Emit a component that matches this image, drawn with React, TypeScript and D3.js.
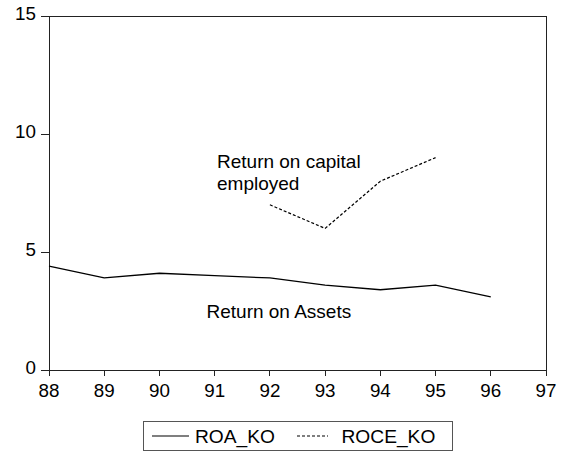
import React from "react";
import * as d3 from "d3";

const years = [88, 89, 90, 91, 92, 93, 94, 95, 96];
const roa = [4.4, 3.9, 4.1, 4.0, 3.9, 3.6, 3.4, 3.6, 3.1];
const roceYears = [92, 93, 94, 95];
const roce = [7.0, 6.0, 8.0, 9.0];
const xTicks = [88, 89, 90, 91, 92, 93, 94, 95, 96, 97];
const yTicks = [0, 5, 10, 15];
const seriesNames = ["ROA_KO", "ROCE_KO"];

const W = 563;
const H = 453;
const left = 49;
const right = 546;
const top = 16;
const bottom = 370;
const font = "'Liberation Sans', Arial, sans-serif";

export default function App() {
  const x = d3.scaleLinear().domain([88, 97]).range([left, right]);
  const y = d3.scaleLinear().domain([0, 15]).range([bottom, top]);
  const line = d3
    .line<[number, number]>()
    .x((d) => x(d[0]))
    .y((d) => y(d[1]));
  const roaPath = line(years.map((yr, i) => [yr, roa[i]]) as [number, number][]) || "";
  const rocePath = line(roceYears.map((yr, i) => [yr, roce[i]]) as [number, number][]) || "";

  return (
    <svg
      width={W}
      height={H}
      style={{ position: "absolute", left: 0, top: 0, background: "#fff" }}
      fontFamily={font}
    >
      <rect x={0} y={0} width={W} height={H} fill="#fff" />
      <rect
        x={left}
        y={top}
        width={right - left}
        height={bottom - top}
        fill="none"
        stroke="#222"
        strokeWidth={1}
        shapeRendering="crispEdges"
      />
      {yTicks.map((t) => (
        <g key={"y" + t}>
          <line
            x1={left - 8}
            x2={left}
            y1={y(t)}
            y2={y(t)}
            stroke="#222"
            shapeRendering="crispEdges"
          />
          <text x={36} y={y(t) + 4} textAnchor="end" fontSize={18.8} fill="#000">
            {t}
          </text>
        </g>
      ))}
      {xTicks.map((t) => (
        <g key={"x" + t}>
          <line
            x1={x(t)}
            x2={x(t)}
            y1={bottom}
            y2={bottom + 6}
            stroke="#222"
            shapeRendering="crispEdges"
          />
          <text x={x(t)} y={396.5} textAnchor="middle" fontSize={18.8} fill="#000">
            {t}
          </text>
        </g>
      ))}
      <path d={roaPath} fill="none" stroke="#000" strokeWidth={1.3} />
      <path d={rocePath} fill="none" stroke="#000" strokeWidth={1.2} strokeDasharray="3,2" />
      <text x={217} y={168} fontSize={19} fill="#000">
        Return on capital
      </text>
      <text x={217} y={190} fontSize={19} fill="#000">
        employed
      </text>
      <text x={206.5} y={318} fontSize={19} fill="#000">
        Return on Assets
      </text>
      <rect
        x={143.5}
        y={421.5}
        width={309}
        height={29}
        fill="#fff"
        stroke="#555"
        strokeWidth={1}
      />
      <line x1={152} x2={189} y1={436} y2={436} stroke="#000" strokeWidth={1.2} />
      <text x={195} y={443} fontSize={19.2} fill="#000">
        {seriesNames[0]}
      </text>
      <line
        x1={297}
        x2={328}
        y1={436}
        y2={436}
        stroke="#000"
        strokeWidth={1.2}
        strokeDasharray="3,2"
      />
      <text x={341.5} y={443} fontSize={19.2} fill="#000">
        {seriesNames[1]}
      </text>
    </svg>
  );
}
